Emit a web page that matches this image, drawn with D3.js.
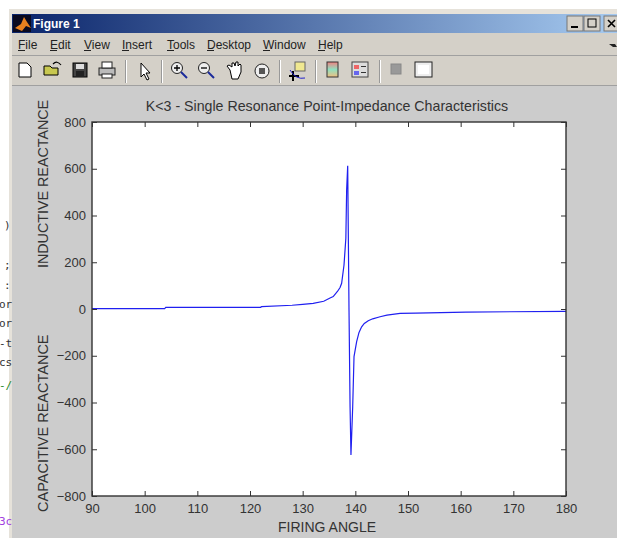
<!DOCTYPE html>
<html><head><meta charset="utf-8">
<script src="https://cdn.jsdelivr.net/npm/d3@7"></script>
<style>html,body{margin:0;padding:0;background:#fff;overflow:hidden}svg{display:block}
text{font-family:"Liberation Sans",Arial,sans-serif}</style></head>
<body><div id="c"></div>
<script>
const firingAngle=[90,103.8,104,122,122.2,128,130,132,134,135.2,135.8,136.6,137.1,137.4,137.85,138.2,138.35,138.55,138.8,139,139.17,139.5,139.75,140.25,140.7,141.2,141.7,142.45,143.3,144.7,146,148.5,151.5,161,180];
const reactance=[2,2,7,7,10,16,20,24,33,47,53,75,92,110,188,303,509,613,-5,-418,-625,-418,-204,-140,-100,-76,-62,-50,-42,-33,-26,-19,-18,-13,-10];
const xTicks=[90,100,110,120,130,140,150,160,170,180];
const yTicks=[-800,-600,-400,-200,0,200,400,600,800];
const menuItems=[["File",18],["Edit",50],["View",84],["Insert",122],["Tools",167],["Desktop",207],["Window",263],["Help",318]];
const chartTitle="K<3 - Single Resonance Point-Impedance Characteristics";
const xLabel="FIRING ANGLE",yLabelTop="INDUCTIVE REACTANCE",yLabelBottom="CAPACITIVE REACTANCE";
const codeScraps=[[")",225,"#333"],[";",265,"#333"],[":",285,"#333"],["or",304,"#333"],["or",323,"#333"],["-t",343,"#333"],["cs",362,"#333"],["-/",385,"#2a8a2a"],["3c",521,"#a040e0"]];

const W=617,H=538;
const svg=d3.select("#c").append("svg").attr("width",W).attr("height",H);
const defs=svg.append("defs");
const g=defs.append("linearGradient").attr("id","tb");
g.append("stop").attr("offset","0").attr("stop-color","#0a246a");
g.append("stop").attr("offset","1").attr("stop-color","#a6caf0");
const rb=defs.append("linearGradient").attr("id","rb").attr("x1",0).attr("x2",0).attr("y1",0).attr("y2",1);
rb.append("stop").attr("offset","0").attr("stop-color","#f08080");
rb.append("stop").attr("offset",".5").attr("stop-color","#90e0c0");
rb.append("stop").attr("offset","1").attr("stop-color","#f0c080");
const R=(x,y,w,h,f,s)=>svg.append("rect").attr("x",x).attr("y",y).attr("width",w).attr("height",h).attr("fill",f).attr("stroke",s||"none");
const P=(d,f,s,sw)=>svg.append("path").attr("d",d).attr("fill",f||"none").attr("stroke",s||"none").attr("stroke-width",sw||1);

// window
R(9,9,608,529,"#e6e2da");
R(12,14,605,524,"#d4d0c8");
R(12,14,605,19,"url(#tb)");
R(12,85,605,453,"#cccccc");
R(12,55,605,1,"#a0a0a0");R(12,85,605,1,"#a0a0a0");
// scraps of the editor behind the window
svg.selectAll("text.code").data(codeScraps).join("text").attr("x",d=>d[0].length>1?-1:4).attr("y",d=>d[1]+4)
  .attr("font-size",11).attr("fill",d=>d[2]).style("font-family","'DejaVu Sans Mono',monospace").text(d=>d[0]);
// title bar
R(13,15,18,17,"#0a0a20");
P("M15 28 L21 24 L24 17 L27 22 L31 28 L26 26 L22 31Z","#e8801f");
svg.append("text").attr("x",33).attr("y",28).attr("fill","#fff").attr("font-size",12).attr("font-weight","bold").text("Figure 1");
[[567,"min"],[584,"max"],[604,"close"]].forEach(([x,k])=>{
  R(x,16,k=="close"?14:16,15,"#d4d0c8","#777");
  if(k=="min")R(x+4,26,7,2,"#000");
  if(k=="max")svg.append("rect").attr("x",x+4).attr("y",19).attr("width",8).attr("height",8).attr("fill","none").attr("stroke","#000");
  if(k=="close")P(`M${x+4} 20L${x+11} 27M${x+11} 20L${x+4} 27`,"none","#000",1.6);
});
// menu
svg.selectAll("text.m").data(menuItems).join("text").attr("x",d=>d[1]).attr("y",48.5).attr("font-size",12).attr("fill","#222").text(d=>d[0]);
menuItems.forEach(d=>R(d[1],50,7,1,"#222"));
P("M609 44l6 0l2 3l-4 0z","#222");
// toolbar
[125,161,279,315,379].forEach(x=>{R(x,60,1,23,"#999");R(x+1,60,1,23,"#fff")});
P("M19 63H27L31 67V77H19Z","#fff","#000");
P("M44 75V66H50L52 68H58V75Z","#c8c850","#000");P("M53 64Q57 60 61 65","none","#000",1.2);
R(73,63,14,14,"#444","#000");R(76,64,8,5,"#ddd");R(76,71,8,5,"#222");
R(99,68,16,7,"#bbb","#222");R(102,62,10,6,"#fff","#222");R(102,74,10,4,"#fff","#222");
P("M141 63V77L144 74L147 80L149 79L146 73H150Z","#fff","#000");
[[177,1],[204,0]].forEach(([x,plus])=>{
  svg.append("circle").attr("cx",x).attr("cy",68).attr("r",5.5).attr("fill","#eee").attr("stroke","#222");
  P(`M${x+4} 72L${x+10} 78`,"none","#1a2a9a",2);
  P(`M${x-3} 68H${x+3}`+(plus?`M${x} 65V71`:""),"none","#000",1.3);
});
P("M230 70L227 66L229 65L232 67L232 63L234 63L235 66L236 62L238 62L238 66L240 64L241 65L241 72L238 79L232 79Z","#fff","#000");
svg.append("circle").attr("cx",262).attr("cy",71).attr("r",7).attr("fill","#eee").attr("stroke","#222");
R(259,68,6,6,"#555");
R(295,62,10,9,"#f0e890","#666");P("M289 76H299M293 71V81","none","#000",2);P("M290 70Q296 80 305 78","none","#22c",1);
R(327,62,11,15,"url(#rb)","#333");
R(352,62,16,15,"#ddd","#444");R(354,65,5,4,"#e66");R(354,71,5,4,"#66e");R(361,66,5,1,"#333");R(361,72,5,1,"#333");
R(391,64,10,10,"#999","#888");
R(415,62,17,15,"#eee","#222");R(418,65,11,9,"#fff");

// axes
const m={l:92,r:566,t:122,b:496};
const x=d3.scaleLinear().domain([90,180]).range([m.l,m.r]);
const y=d3.scaleLinear().domain([-800,800]).range([m.b,m.t]);
R(m.l,m.t,m.r-m.l,m.b-m.t,"#fff");
const line=d3.line().x((d,i)=>x(firingAngle[i])).y(d=>y(d));
svg.append("path").attr("d",line(reactance)).attr("fill","none").attr("stroke","#2020f0").attr("stroke-width",1.2);
const styleAxis=a=>{a.selectAll("text").attr("fill","#333").attr("font-size",13).style("font-family","'Liberation Sans',Arial,sans-serif");
  a.selectAll("line,path").attr("stroke","#333");a.select(".domain").remove();};
svg.append("g").attr("transform",`translate(0,${m.b})`).call(d3.axisBottom(x).tickValues(xTicks).tickFormat(d3.format("d")).tickSize(-5).tickPadding(8)).call(styleAxis);
svg.append("g").attr("transform",`translate(0,${m.t})`).call(d3.axisTop(x).tickValues(xTicks).tickFormat("").tickSize(-5)).call(styleAxis);
svg.append("g").attr("transform",`translate(${m.l},0)`).call(d3.axisLeft(y).tickValues(yTicks).tickFormat(d3.format("d")).tickSize(-5).tickPadding(6)).call(styleAxis);
svg.append("g").attr("transform",`translate(${m.r},0)`).call(d3.axisRight(y).tickValues(yTicks).tickFormat("").tickSize(-5)).call(styleAxis);
svg.append("rect").attr("x",m.l).attr("y",m.t).attr("width",m.r-m.l).attr("height",m.b-m.t).attr("fill","none").attr("stroke","#333").attr("stroke-width",1.4);
// labels
svg.append("text").attr("x",327).attr("y",111).attr("text-anchor","middle").attr("font-size",14.2).attr("fill","#333").text(chartTitle);
svg.append("text").attr("x",327).attr("y",532).attr("text-anchor","middle").attr("font-size",14).attr("fill","#333").text(xLabel);
svg.append("text").attr("transform","translate(48,268) rotate(-90)").attr("font-size",14.3).attr("fill","#333").text(yLabelTop);
svg.append("text").attr("transform","translate(48,512) rotate(-90)").attr("font-size",14.5).attr("fill","#333").text(yLabelBottom);
</script></body></html>
